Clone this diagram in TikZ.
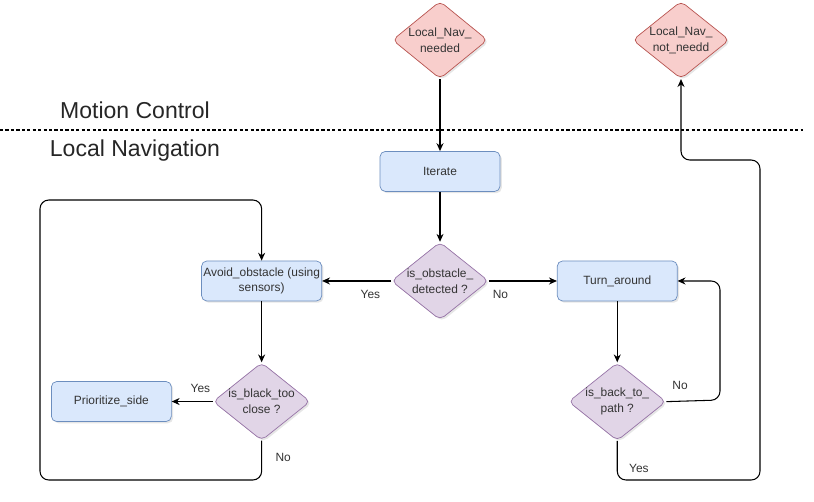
\documentclass[tikz,border=0pt]{standalone}
\usepackage{fontspec}
\setmainfont{Liberation Sans}
\usetikzlibrary{positioning, calc, shapes.geometric, arrows.meta, shadows}
\definecolor{navRed}{HTML}{F8CECC}
\definecolor{navRedDraw}{HTML}{B85450}
\definecolor{navBlue}{HTML}{DAE8FC}
\definecolor{navBlueDraw}{HTML}{6C8EBF}
\definecolor{navPurple}{HTML}{E1D5E7}
\definecolor{navPurpleDraw}{HTML}{9673A6}
\definecolor{textGray}{HTML}{333333}

\begin{document}
\begin{tikzpicture}[
    x=0.02cm, y=-0.02cm,
    node distance=1.22cm and 1.4cm,
    layer/.style={font=\fontsize{13.1}{15}\selectfont, text=black!85},
    lbl/.style={font=\fontsize{6.8}{8}\selectfont, text=textGray, inner sep=2pt},
    startnode/.style={diamond, aspect=1.25, draw=navRedDraw, fill=navRed,
                rounded corners=3pt, inner sep=0pt, minimum width=1.9cm,
                minimum height=1.55cm, align=center, text=textGray,
                font=\fontsize{6.8}{9}\selectfont,
                drop shadow={opacity=0.2, shadow xshift=1pt, shadow yshift=-1pt}},
    decide/.style={startnode, draw=navPurpleDraw, fill=navPurple},
    proc/.style={rectangle, draw=navBlueDraw, fill=navBlue, rounded corners=3pt,
                minimum width=2.4cm, minimum height=0.8cm, align=center,
                text=textGray, font=\fontsize{6.8}{9}\selectfont, inner sep=1pt,
                drop shadow={opacity=0.2, shadow xshift=1pt, shadow yshift=-1pt}},
    arrow/.style={-{Stealth[length=4.5pt, width=4pt]}, line width=0.6pt},
  ]
    \useasboundingbox (0,0) rectangle (814,501);

    % Layers
    \node[layer] (MC) at (135,110) {Motion Control};
    \node[layer] (LN) at (135,151) {Local Navigation};
    \draw[line width=0.6pt, dash pattern=on 1.8pt off 1.3pt] (0,130) -- (803,130);

    % Main column
    \node[startnode] (NEED) at (440,40) {Local\_Nav\_\\needed};
    \node[startnode] (NOTNEED) at (681,40) {Local\_Nav\_\\not\_needd};
    \node[proc, below=1.44cm of NEED] (IT) {Iterate};
    \node[decide, below=1.0cm of IT] (OBST) {is\_obstacle\_\\detected ?};
    \node[proc, left=1.38cm of OBST] (AVOID) {Avoid\_obstacle (using\\sensors)};
    \node[proc, right=1.36cm of OBST] (TURN) {Turn\_around};

    % Left branch
    \node[decide, below=of AVOID] (BLACK) {is\_black\_too\\close ?};
    \node[proc, left=0.82cm of BLACK] (PRIO) {Prioritize\_side};

    % Right branch
    \node[decide, below=of TURN] (BACK) {is\_back\_to\_\\path ?};

    \coordinate (LB) at (40,480);
    \coordinate (LT) at (40,200);
    \coordinate (RB) at (720,400);
    \coordinate (YB) at (760,480);
    \coordinate (YT) at (760,160);

    \draw[arrow] (NEED) -- (IT);
    \draw[arrow] (IT) -- (OBST);
    \draw[arrow] (OBST) -- node[lbl, pos=0.3, below=3pt] {Yes} (AVOID);
    \draw[arrow] (OBST) -- node[lbl, pos=0.17, below=3pt] {No} (TURN);
    \draw[arrow] (AVOID) -- (BLACK);
    \draw[arrow] (BLACK) -- node[lbl, pos=0.3, above=3pt] {Yes} (PRIO);
    \draw[arrow] (TURN) -- (BACK);

    % Loops
    \draw[arrow, rounded corners=5pt] (BLACK.south) |- (LB) -- (LT) -| (AVOID.north);
    \node[lbl, anchor=west] (NO1) at ($(BLACK.south)+(10,17)$) {No};
    \draw[arrow, rounded corners=5pt] (BACK.east) -- (RB) |- (TURN.east);
    \node[lbl] (NO2) at (680,385) {No};
    \draw[arrow, rounded corners=5pt] (BACK.south) |- (YB) -- (YT) -| (NOTNEED.south);
    \node[lbl, anchor=west] (YES3) at ($(BACK.south)+(8,27)$) {Yes};
  \end{tikzpicture}
\end{document}
